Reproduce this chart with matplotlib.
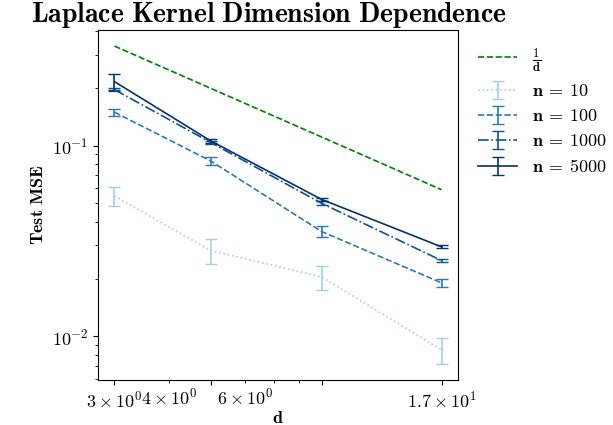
import matplotlib
matplotlib.use("Agg")
import matplotlib.pyplot as plt
import numpy as np

plt.rcParams['mathtext.fontset'] = 'cm'
plt.rcParams['font.family'] = 'serif'
plt.rcParams['font.serif'] = ['cmr10', 'DejaVu Serif']
plt.rcParams['axes.formatter.use_mathtext'] = True

d = [3, 5, 9, 17]
ref_line = [1 / x for x in d]

mse_10 = [0.0545, 0.0282, 0.0205, 0.0085]
err_10 = [0.0061, 0.0042, 0.0030, 0.0013]
mse_100 = [0.150, 0.0832, 0.0355, 0.0191]
err_100 = [0.0068, 0.0044, 0.0023, 0.0010]
mse_1000 = [0.197, 0.104, 0.0499, 0.0250]
err_1000 = [0.0032, 0.0020, 0.0012, 0.0004]
mse_5000 = [0.217, 0.106, 0.0523, 0.0295]
err_5000 = [0.021, 0.0020, 0.0012, 0.0005]

series = [
    (r'$\mathbf{n}\:=\:\mathbf{10}$', mse_10, err_10, ':', plt.cm.Blues(0.35)),
    (r'$\mathbf{n}\:=\:\mathbf{100}$', mse_100, err_100, '--', plt.cm.Blues(0.72)),
    (r'$\mathbf{n}\:=\:\mathbf{1000}$', mse_1000, err_1000, '-.', plt.cm.Blues(0.87)),
    (r'$\mathbf{n}\:=\:\mathbf{5000}$', mse_5000, err_5000, '-', plt.cm.Blues(1.0)),
]

fig = plt.figure(figsize=(6.13, 4.25), dpi=100)
ax = fig.add_axes([0.16, 0.107, 0.587, 0.822])

ax.plot(d, ref_line, '--', color='green', lw=1.2, label=r'$\mathbf{\frac{1}{d}}$')
for label, m, e, ls, c in series:
    ax.errorbar(d, m, yerr=e, linestyle=ls, color=c, capsize=4, lw=1.2, label=label)

ax.set_xscale('log')
ax.set_yscale('log')
ax.set_xticks(d)
ax.tick_params(which='both', labelsize=13)

ax.set_title(r'$\mathbf{Laplace\ Kernel\ Dimension\ Dependence}$', fontsize=20, x=0.475, pad=5)
ax.set_xlabel(r'$\mathbf{d}$', fontsize=13, labelpad=0)
ax.set_ylabel(r'$\mathbf{Test\ MSE}$', fontsize=13)

ax.legend(loc='upper left', bbox_to_anchor=(1.01, 1.0), frameon=False, fontsize=13,
          handlelength=2.2, labelspacing=0.5)

fig.savefig('out.png', dpi=100)
